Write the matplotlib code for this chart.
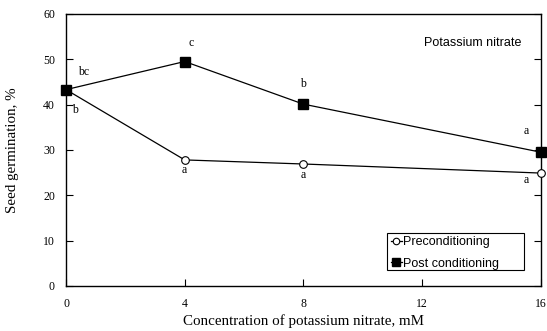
import matplotlib.pyplot as plt
from matplotlib.patches import Rectangle

# Concentration of potassium nitrate (mM)
conc = [0, 4, 8, 16]
pre = [43.3, 27.8, 26.9, 24.9]
post = [43.3, 49.5, 40.1, 29.5]

# significance letters
post_letters = ['bc', 'c', 'b', 'a']
pre_letters = ['b', 'a', 'a', 'a']
post_pos = [(0.6, 47.2), (4.2, 53.6), (8.0, 44.6), (15.5, 34.2)]
pre_pos = [(0.3, 38.8), (4.0, 25.6), (8.0, 24.4), (15.5, 23.4)]

serif = 'Liberation Serif'
sans = 'Liberation Sans'

fig = plt.figure(figsize=(5.47, 3.31), dpi=100)
ax = fig.add_axes([0.1207, 0.136, 0.868, 0.822])

ax.plot(conc, pre, color='black', lw=0.9, marker='o', ms=5.5,
        mfc='white', mec='black', mew=0.8, label='Preconditioning', clip_on=False, zorder=3)
ax.plot(conc, post, color='black', lw=0.9, marker='s', ms=7,
        mfc='black', mec='black', label='Post conditioning', clip_on=False, zorder=3)

for txt, (x, y) in zip(post_letters, post_pos):
    ax.text(x, y, txt, fontsize=8.5, family=serif, ha='center', va='center')
for txt, (x, y) in zip(pre_letters, pre_pos):
    ax.text(x, y, txt, fontsize=8.5, family=serif, ha='center', va='center')

ax.text(15.36, 53.6, 'Potassium nitrate', fontsize=9, family=sans, ha='right', va='center')

ax.set_xlim(0, 16)
ax.set_ylim(0, 60)
ax.set_xticks([0, 4, 8, 12, 16])
ax.set_yticks([0, 10, 20, 30, 40, 50, 60])
ax.tick_params(direction='in', length=5, width=0.8, labelsize=8.5, right=True)
ax.tick_params(axis='x', pad=9)
ax.tick_params(axis='y', pad=8)
for lab in ax.get_xticklabels() + ax.get_yticklabels():
    lab.set_family(serif)
for sp in ax.spines.values():
    sp.set_linewidth(1.0)

ax.set_xlabel('Concentration of potassium nitrate, mM', fontsize=10.8, family=serif)
ax.set_ylabel('Seed germination, %', fontsize=10.8, family=serif)
ax.xaxis.set_label_coords(0.5, -0.104)
ax.yaxis.set_label_coords(-0.1, 0.5)

# legend box is wider than its text in the original
ax.add_patch(Rectangle((0.676, 0.059), 0.288, 0.136, transform=ax.transAxes,
                       facecolor='white', edgecolor='black', lw=0.8, zorder=4))
leg = ax.legend(loc='upper left', bbox_to_anchor=(0.684, 0.183),
                prop={'family': sans, 'size': 9}, frameon=False,
                handlelength=0.9, handletextpad=0.05,
                borderpad=0, labelspacing=0.75, borderaxespad=0, markerscale=0.85)
leg.set_zorder(5)

fig.savefig('out.png', dpi=100)
